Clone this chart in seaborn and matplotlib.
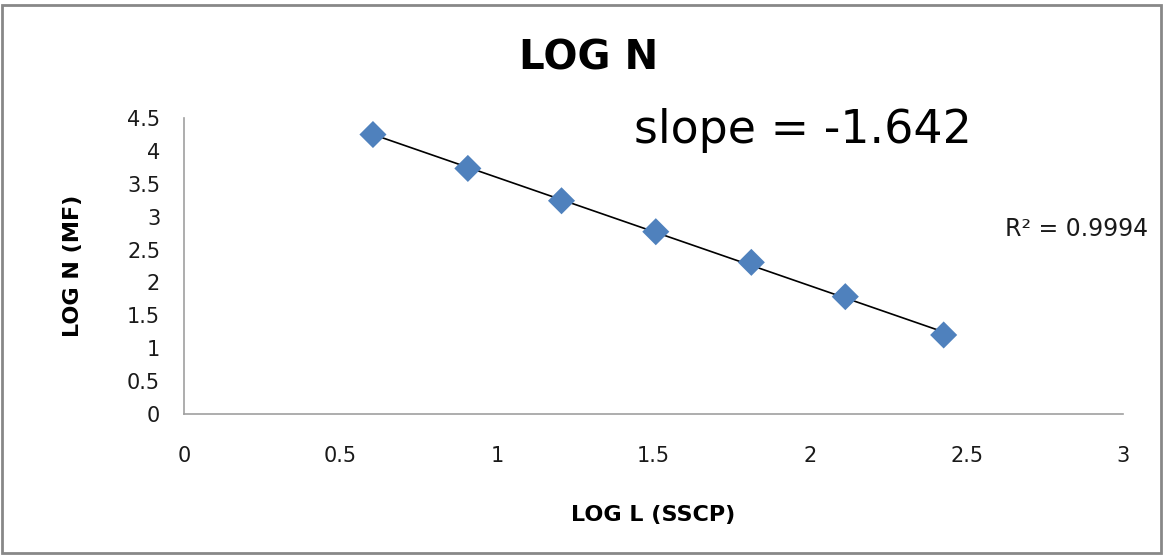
import numpy as np
import pandas as pd
import seaborn as sns
import matplotlib.pyplot as plt
from matplotlib.patches import Rectangle

# valores
log_l = [0.604, 0.907, 1.206, 1.507, 1.812, 2.112, 2.426]
log_n = [4.25, 3.734, 3.242, 2.771, 2.305, 1.783, 1.20]
x_ticks = [0, 0.5, 1, 1.5, 2, 2.5, 3]
y_ticks = [0, 0.5, 1, 1.5, 2, 2.5, 3, 3.5, 4, 4.5]

dados = pd.DataFrame({'log_l': log_l, 'log_n': log_n})

sns.set_style('white')
plt.rcParams['font.family'] = ['DejaVu Sans']

fig = plt.figure(figsize=(11.63, 5.57), dpi=100)
ax = fig.add_axes([0.158, 0.257, 0.808, 0.531])

# linha de tendência (ajuste linear)
coef = np.polyfit(dados['log_l'], dados['log_n'], 1)
xs = np.array([dados['log_l'].min(), dados['log_l'].max()])
ax.plot(xs, np.polyval(coef, xs), color='black', lw=1.2, zorder=1)

sns.scatterplot(x='log_l', y='log_n', data=dados, marker='D', s=190,
                color='#4F81BD', edgecolor='none', ax=ax, zorder=2)

ax.set_xlim(0, 3)
ax.set_ylim(0, 4.5)
ax.set_xticks(x_ticks)
ax.set_xticklabels([f'{t:g}' for t in x_ticks])
ax.set_yticks(y_ticks)
ax.set_yticklabels([f'{t:g}' for t in y_ticks])
ax.tick_params(axis='both', length=0, labelsize=15, colors='#1a1a1a')
ax.tick_params(axis='x', pad=23)
ax.tick_params(axis='y', pad=17)

for lado in ['top', 'right']:
    ax.spines[lado].set_visible(False)
for lado in ['left', 'bottom']:
    ax.spines[lado].set_color('#a0a0a0')
    ax.spines[lado].set_linewidth(1.2)

ax.set_xlabel('LOG L (SSCP)', fontsize=16, fontweight='bold', labelpad=28,
              color='black')
ax.set_ylabel('LOG N (MF)', fontsize=16, fontweight='bold', labelpad=32,
              color='black')

fig.text(0.506, 0.895, 'LOG N', fontsize=29, fontweight='bold',
         ha='center', va='center', color='black')
fig.text(0.545, 0.765, 'slope = -1.642', fontsize=33, ha='left', va='center',
         color='black')
fig.text(0.864, 0.588, 'R² = 0.9994', fontsize=17, ha='left', va='center',
         color='#1a1a1a')

# moldura do gráfico
fig.patches.append(Rectangle((0.002, 0.007), 0.996, 0.984, transform=fig.transFigure,
                             fill=False, edgecolor='#888888', lw=2))

fig.savefig('out.png', dpi=100)
